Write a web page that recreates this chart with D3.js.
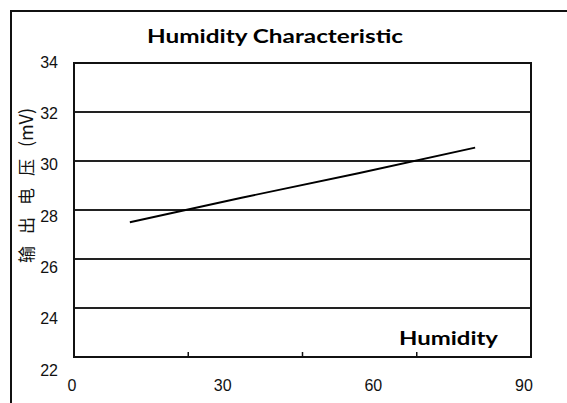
<!DOCTYPE html>
<html>
<head>
<meta charset="utf-8">
<script src="https://cdn.jsdelivr.net/npm/d3@7"></script>
<style>
  body { margin: 0; background: #fff; }
  svg { display: block; }
</style>
</head>
<body>
<script>
//Chart data
var humidity = [11, 33, 56, 79];          // %RH
var voltage = [27.5, 28.5, 29.5, 30.55];  // mV

//Axis labels
var yTickValues = [22, 24, 26, 28, 30, 32, 34];
var xTickValues = [0, 30, 60, 90];
var xMinorTicks = [22.5, 45, 67.5];

var titleText = "Humidity Characteristic";
var xTitleText = "Humidity";
var yTitleText = "输出电压";
var yUnitText = "(mV)";

//Width and height
var w = 567;
var h = 403;

//Plot box
var plot = { left: 74, right: 531, top: 63, bottom: 357 };

var x = d3.scaleLinear().domain([0, 90]).range([plot.left, plot.right]);
var y = d3.scaleLinear().domain([22, 34]).range([plot.bottom, plot.top]);

//The scanned labels sit on a slightly different grid than the plot lines
var xLabel = d3.scaleLinear().domain([0, 90]).range([72, 524]);
var yLabel = d3.scaleLinear().domain([22, 34]).range([370, 62]);

var svg = d3.select("body")
            .append("svg")
            .attr("width", w)
            .attr("height", h);

//Outer frame (runs off the right and bottom of the picture)
svg.append("rect")
   .attr("x", 11)
   .attr("y", 11)
   .attr("width", 620)
   .attr("height", 460)
   .attr("fill", "none")
   .attr("stroke", "#111")
   .attr("stroke-width", 2);

//Horizontal grid lines
svg.selectAll("line.grid")
   .data(yTickValues.slice(1, -1))
   .enter()
   .append("line")
   .attr("class", "grid")
   .attr("x1", plot.left)
   .attr("x2", plot.right)
   .attr("y1", function(d) { return y(d); })
   .attr("y2", function(d) { return y(d); })
   .attr("stroke", "#222")
   .attr("stroke-width", 2);

//Plot box
svg.append("rect")
   .attr("x", plot.left)
   .attr("y", plot.top)
   .attr("width", plot.right - plot.left)
   .attr("height", plot.bottom - plot.top)
   .attr("fill", "none")
   .attr("stroke", "#111")
   .attr("stroke-width", 2);

//Small tick marks on the x axis
svg.selectAll("line.xtick")
   .data(xMinorTicks)
   .enter()
   .append("line")
   .attr("class", "xtick")
   .attr("x1", function(d) { return x(d); })
   .attr("x2", function(d) { return x(d); })
   .attr("y1", plot.bottom)
   .attr("y2", plot.bottom - 5)
   .attr("stroke", "#111")
   .attr("stroke-width", 1.5);

//Y tick labels
svg.selectAll("text.ylab")
   .data(yTickValues)
   .enter()
   .append("text")
   .attr("class", "ylab")
   .attr("x", 58)
   .attr("y", function(d) { return yLabel(d); })
   .attr("dy", "0.36em")
   .attr("text-anchor", "end")
   .attr("font-family", "Liberation Sans, sans-serif")
   .attr("font-size", 16)
   .attr("fill", "#111")
   .text(function(d) { return d; });

//X tick labels
svg.selectAll("text.xlab")
   .data(xTickValues)
   .enter()
   .append("text")
   .attr("class", "xlab")
   .attr("x", function(d) { return xLabel(d); })
   .attr("y", 385)
   .attr("dy", "0.36em")
   .attr("text-anchor", "middle")
   .attr("font-family", "Liberation Sans, sans-serif")
   .attr("font-size", 16)
   .attr("fill", "#111")
   .text(function(d) { return d; });

//Curve
var line = d3.line()
    .x(function(d) { return x(d[0]); })
    .y(function(d) { return y(d[1]); });

svg.append("path")
   .datum(d3.zip(humidity, voltage))
   .attr("d", line)
   .attr("fill", "none")
   .attr("stroke", "#000")
   .attr("stroke-width", 1.8);

//Title
svg.append("text")
   .attr("x", 147)
   .attr("y", 43)
   .attr("font-family", "Lato, sans-serif")
   .attr("font-weight", "bold")
   .attr("font-size", 19)
   .attr("textLength", 256)
   .attr("lengthAdjust", "spacingAndGlyphs")
   .attr("fill", "#000")
   .text(titleText);

//X axis title
svg.append("text")
   .attr("x", 399)
   .attr("y", 345)
   .attr("font-family", "Lato, sans-serif")
   .attr("font-weight", "bold")
   .attr("font-size", 19)
   .attr("textLength", 99)
   .attr("lengthAdjust", "spacingAndGlyphs")
   .attr("fill", "#000")
   .text(xTitleText);

//Y axis title, read bottom to top
var yTitle = svg.append("text")
   .attr("transform", "translate(25,263) rotate(-90)")
   .attr("text-anchor", "start")
   .attr("dominant-baseline", "central")
   .attr("font-family", "Noto Sans CJK SC, sans-serif")
   .attr("font-size", 17)
   .attr("fill", "#111");

yTitle.append("tspan")
   .attr("letter-spacing", 12)
   .text(yTitleText);

yTitle.append("tspan")
   .attr("font-size", 18)
   .text(yUnitText);
</script>
</body>
</html>
